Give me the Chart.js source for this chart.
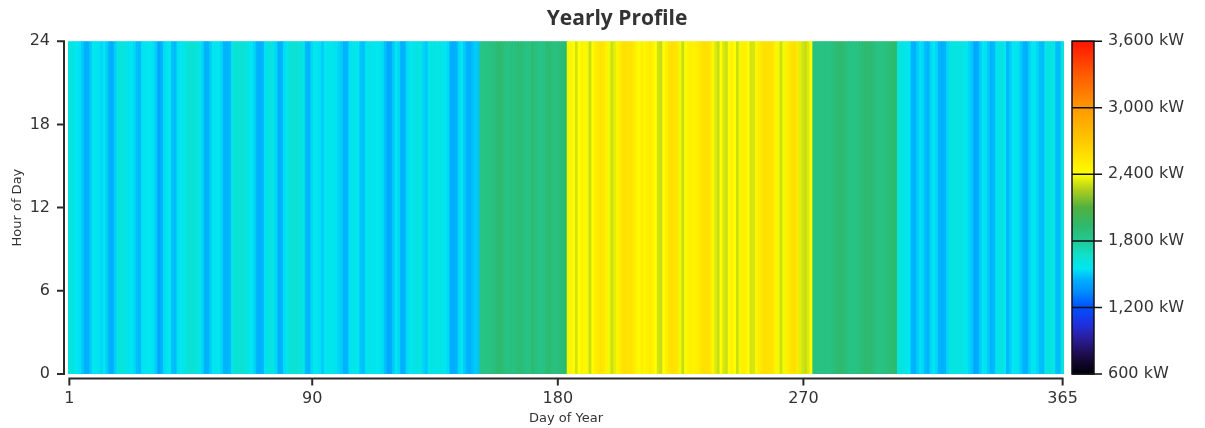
<!DOCTYPE html>
<html><head><meta charset="utf-8">
<script src="https://cdn.jsdelivr.net/npm/chart.js@4.4.1/dist/chart.umd.min.js"></script>
<style>html,body{margin:0;padding:0;background:#fff}canvas{display:block}</style>
</head><body>
<canvas id="chart" width="1205" height="428"></canvas>
<script>
// ---------- text ----------
const chartTitle = 'Yearly Profile';
const xAxisTitle = 'Day of Year';
const yAxisTitle = 'Hour of Day';

// ---------- tick labels ----------
const xTickDays = [1, 90, 180, 270, 365];
const yTickHours = [0, 6, 12, 18, 24];
const colorTicksKW = [600, 1200, 1800, 2400, 3000, 3600];

// ---------- estimated daily load (kW), one value per day ----------
const loadJan = [1620,1610,1580,1550,1540,1500,1450,1450,1500,1560,1570,1540,1520,1560,1510,1450,1440,1510,1600,1620,1610,1580,1540,1560,1530,1480,1470,1540,1570,1550,1560];
const loadFeb = [1540,1500,1410,1455,1530,1570,1550,1480,1470,1540,1560,1580,1600,1640,1650,1630,1620,1580,1520,1450,1455,1510,1560,1570,1550,1520,1460,1455];
const loadMar = [1470,1580,1640,1650,1630,1650,1620,1570,1550,1520,1455,1450,1460,1540,1600,1610,1590,1520,1450,1455,1530,1570,1630,1640,1650,1620,1630,1580,1470,1455,1520];
const loadApr = [1560,1570,1540,1500,1550,1580,1560,1570,1540,1520,1500,1455,1460,1540,1570,1580,1550,1490,1480,1540,1570,1580,1560,1550,1570,1530,1480,1420,1430,1500];
const loadMay = [1560,1520,1450,1455,1530,1560,1580,1590,1600,1580,1520,1490,1570,1600,1590,1580,1600,1570,1560,1530,1450,1440,1455,1530,1550,1500,1455,1450,1480,1500,1490];
const loadJun = [1840,1850,1860,1850,1870,1880,1920,1930,1910,1870,1860,1880,1870,1890,1910,1900,1870,1850,1860,1920,1880,1850,1840,1860,1900,1920,1890,1870,1880,1890];
const loadJul = [1900,1930,2380,2460,2420,2320,2400,2470,2450,2380,2300,2420,2480,2520,2550,2530,2470,2380,2310,2350,2460,2500,2560,2570,2550,2560,2520,2460,2430,2480,2450];
const loadAug = [2490,2510,2470,2400,2320,2300,2410,2480,2540,2570,2560,2530,2380,2300,2390,2470,2490,2460,2480,2510,2550,2570,2560,2540,2450,2340,2300,2400,2330,2310,2420];
const loadSep = [2470,2400,2310,2380,2480,2490,2420,2320,2330,2450,2500,2540,2570,2560,2560,2540,2460,2380,2310,2380,2470,2520,2560,2570,2520,2350,2320,2300,2340,2400];
const loadOct = [1870,1860,1850,1860,1870,1850,1860,1880,1910,1920,1930,1920,1880,1860,1850,1850,1860,1880,1910,1930,1920,1930,1890,1860,1850,1860,1870,1880,1910,1920,1930];
const loadNov = [1620,1600,1590,1580,1550,1460,1450,1500,1540,1520,1470,1460,1530,1560,1520,1460,1450,1455,1520,1590,1600,1610,1590,1600,1580,1560,1520,1490,1420,1430];
const loadDec = [1500,1550,1540,1500,1455,1470,1540,1600,1610,1560,1460,1500,1550,1570,1540,1500,1455,1450,1510,1560,1550,1520,1480,1470,1580,1600,1610,1580,1480,1470,1620];

const dailyLoadKW = [...loadJan, ...loadFeb, ...loadMar, ...loadApr, ...loadMay, ...loadJun,
                     ...loadJul, ...loadAug, ...loadSep, ...loadOct, ...loadNov, ...loadDec];
const days = dailyLoadKW.map((_, i) => i + 1);
const hourSpan = [0, 24];

// ---------- styling ----------
const FONT = "'DejaVu Sans', sans-serif";
const TEXT = '#333';
const colorStops = [
  [600, '#000008'], [750, '#1a0a40'], [900, '#2a1a90'], [1050, '#2030e0'], [1200, '#0050ff'],
  [1350, '#0090ff'], [1450, '#00b0ff'], [1550, '#00e6f2'], [1680, '#10e0c8'], [1800, '#22c894'],
  [1950, '#30b868'], [2100, '#50b040'], [2250, '#a8cc20'], [2400, '#ffff00'], [2700, '#ffc800'],
  [3000, '#ff9800'], [3300, '#ff5a00'], [3600, '#ff1400']
];
function hex2rgb(h) { return [1, 3, 5].map(i => parseInt(h.substr(i, 2), 16)); }
function colorFor(v) {
  if (v <= colorStops[0][0]) return colorStops[0][1];
  for (let i = 1; i < colorStops.length; i++) {
    const [v1, c1] = colorStops[i];
    if (v <= v1) {
      const [v0, c0] = colorStops[i - 1];
      const t = (v - v0) / (v1 - v0);
      const a = hex2rgb(c0), b = hex2rgb(c1);
      return 'rgb(' + a.map((x, k) => Math.round(x + (b[k] - x) * t)).join(',') + ')';
    }
  }
  return colorStops[colorStops.length - 1][1];
}

const framePlugin = {
  id: 'frame',
  afterDraw(chart) {
    const { ctx, chartArea: a, scales: { x, y, c } } = chart;
    ctx.save();
    ctx.strokeStyle = '#2a2a2a';
    ctx.lineWidth = 2;
    // y axis line and ticks
    const yx = a.left - 4;
    ctx.beginPath();
    ctx.moveTo(yx, y.getPixelForValue(24));
    ctx.lineTo(yx, y.getPixelForValue(0));
    yTickHours.forEach(h => {
      const py = y.getPixelForValue(h);
      ctx.moveTo(yx - 7, py); ctx.lineTo(yx + 1, py);
    });
    ctx.stroke();
    // x axis line and ticks
    const xy = a.bottom + 4.5;
    ctx.beginPath();
    ctx.moveTo(x.getPixelForValue(0) - 1, xy);
    ctx.lineTo(x.getPixelForValue(days.length - 1) + 1, xy);
    xTickDays.forEach(d => {
      const px = x.getPixelForValue(d - 1);
      ctx.moveTo(px, xy - 1); ctx.lineTo(px, xy + 7);
    });
    ctx.stroke();
    // colour bar
    const cx0 = a.right + 8, cw = 22;
    const top = c.getPixelForValue(c.max), bot = c.getPixelForValue(c.min);
    const g = ctx.createLinearGradient(0, bot, 0, top);
    colorStops.forEach(([v, col]) => g.addColorStop((v - c.min) / (c.max - c.min), col));
    ctx.fillStyle = g;
    ctx.fillRect(cx0, top, cw, bot - top);
    ctx.strokeStyle = '#111';
    ctx.lineWidth = 1.5;
    ctx.strokeRect(cx0, top, cw, bot - top);
    ctx.beginPath();
    colorTicksKW.forEach(v => {
      const py = c.getPixelForValue(v);
      ctx.moveTo(cx0, py); ctx.lineTo(cx0 + cw + 8, py);
    });
    ctx.stroke();
    ctx.restore();
  }
};

new Chart(document.getElementById('chart'), {
  type: 'bar',
  data: {
    labels: days,
    datasets: [{
      label: 'Load',
      data: days.map(() => hourSpan),
      backgroundColor: dailyLoadKW.map(colorFor),
      borderWidth: 0,
      barPercentage: 1,
      categoryPercentage: 1,
      inflateAmount: 0.6
    }]
  },
  options: {
    responsive: false,
    animation: false,
    events: [],
    layout: { padding: { left: 29, right: 0, top: 0, bottom: 0 } },
    plugins: {
      legend: { display: false },
      tooltip: { enabled: false },
      title: {
        display: true, text: chartTitle, color: TEXT,
        font: { family: "'Open Sans', sans-serif", size: 21, weight: 'bold' },
        padding: { top: 6, bottom: 10 }
      }
    },
    scales: {
      x: {
        type: 'category', offset: true,
        grid: { display: false, drawTicks: false }, border: { display: false },
        ticks: {
          autoSkip: false, maxRotation: 0, minRotation: 0, padding: 15, color: TEXT,
          font: { family: FONT, size: 16 },
          callback: (v, i) => xTickDays.includes(days[i]) ? String(days[i]) : null
        },
        title: { display: true, text: xAxisTitle, color: TEXT, font: { family: FONT, size: 13 }, padding: { top: 0, bottom: 2 } },
        afterFit: s => { s.height = 54; }
      },
      y: {
        type: 'linear', min: 0, max: 24,
        afterBuildTicks: s => { s.ticks = yTickHours.map(v => ({ value: v })); },
        grid: { display: false, drawTicks: true, tickLength: 12 }, border: { display: false },
        ticks: { padding: 6, color: TEXT, font: { family: FONT, size: 16 } },
        title: { display: true, text: yAxisTitle, color: TEXT, font: { family: FONT, size: 13 }, padding: { top: -19, bottom: 0 } },
        afterFit: s => { s.width = 39; }
      },
      c: {
        type: 'linear', position: 'right', min: 600, max: 3600,
        afterBuildTicks: s => { s.ticks = colorTicksKW.map(v => ({ value: v })); },
        grid: { display: false, drawTicks: true, tickLength: 38 }, border: { display: false },
        ticks: { padding: 6, color: TEXT, font: { family: FONT, size: 16 },
                 callback: v => v.toLocaleString('en-US') + ' kW' },
        afterFit: s => { s.width = 141; }
      }
    }
  },
  plugins: [framePlugin]
});
</script>
</body></html>
